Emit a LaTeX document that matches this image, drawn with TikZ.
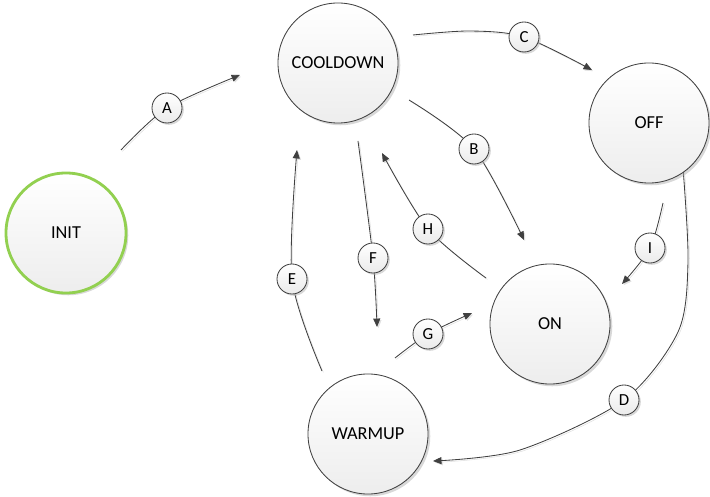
\documentclass[tikz,border=0pt]{standalone}
\usepackage{fontspec}
\setmainfont{Carlito}
\usetikzlibrary{arrows.meta, shadows, backgrounds}
\definecolor{initgreen}{RGB}{146,208,80}
\definecolor{edgegray}{RGB}{64,64,64}

\begin{document}
\begin{tikzpicture}[
    x=0.025cm, y=-0.025cm,
    state/.style={circle, draw=black!75, line width=0.6pt, minimum size=3cm, inner sep=0pt,
        top color=white, bottom color=black!7, font=\fontsize{13}{15}\selectfont,
        drop shadow={shadow xshift=1.6pt, shadow yshift=-1.6pt, fill=black!30, opacity=0.5}},
    tag/.style={circle, draw=black!75, line width=0.6pt, minimum size=0.75cm, inner sep=0pt,
        top color=white, bottom color=black!8, font=\fontsize{12}{14}\selectfont,
        drop shadow={shadow xshift=1.3pt, shadow yshift=-1.3pt, fill=black!30, opacity=0.5}},
    edge/.style={-{Triangle[length=6pt, width=5pt]}, edgegray, line width=0.6pt,
        preaction={draw=black!12, transform canvas={shift={(1pt,-1pt)}}}}
]
    \useasboundingbox (0,0) rectangle (710,497);

    % states
    \node[state, draw=initgreen, line width=2pt] (init) at (66,233) {INIT};
    \node[state] (cooldown) at (338,63)  {COOLDOWN};
    \node[state] (off)      at (649,123) {OFF};
    \node[state] (on)       at (550,324) {ON};
    \node[state] (warmup)   at (368,434) {WARMUP};

    % transition labels
    \node[tag] (A) at (167,108) {A};
    \node[tag] (B) at (474,149) {B};
    \node[tag] (C) at (524,37)  {C};
    \node[tag] (D) at (624,400) {D};
    \node[tag] (E) at (292,279) {E};
    \node[tag] (F) at (373,258) {F};
    \node[tag] (G) at (428,334) {G};
    \node[tag] (H) at (428,229) {H};
    \node[tag] (I) at (650,248) {I};

    % loose ends of the transitions
    \coordinate (a0) at (121,150); \coordinate (a1) at (240,75);
    \coordinate (b0) at (409,100); \coordinate (b1) at (524,240);
    \coordinate (c0) at (413,35);  \coordinate (c1) at (592,70);
    \coordinate (d0) at (683,168); \coordinate (d1) at (433,461);
    \coordinate (e0) at (322,371); \coordinate (e1) at (297,150);
    \coordinate (f0) at (358,141); \coordinate (f1) at (377,327);
    \coordinate (g0) at (395,358); \coordinate (g1) at (472,313);
    \coordinate (h0) at (486,278); \coordinate (h1) at (382,153);
    \coordinate (i0) at (663,203); \coordinate (i1) at (622,284);

    \begin{pgfonlayer}{background}
        \draw[edge] plot[smooth] coordinates {(a0) (A) (a1)};
        \draw[edge] plot[smooth] coordinates {(b0) (B) (b1)};
        \draw[edge] plot[smooth] coordinates {(c0) (470,31) (C) (c1)};
        \draw[edge] plot[smooth] coordinates {(d0) (688,262) (678,332) (D) (520,450) (d1)};
        \draw[edge] plot[smooth] coordinates {(e0) (E) (e1)};
        \draw[edge] plot[smooth] coordinates {(f0) (F) (f1)};
        \draw[edge] plot[smooth] coordinates {(g0) (G) (g1)};
        \draw[edge] plot[smooth] coordinates {(h0) (H) (h1)};
        \draw[edge] plot[smooth] coordinates {(i0) (I) (i1)};
    \end{pgfonlayer}
\end{tikzpicture}
\end{document}
